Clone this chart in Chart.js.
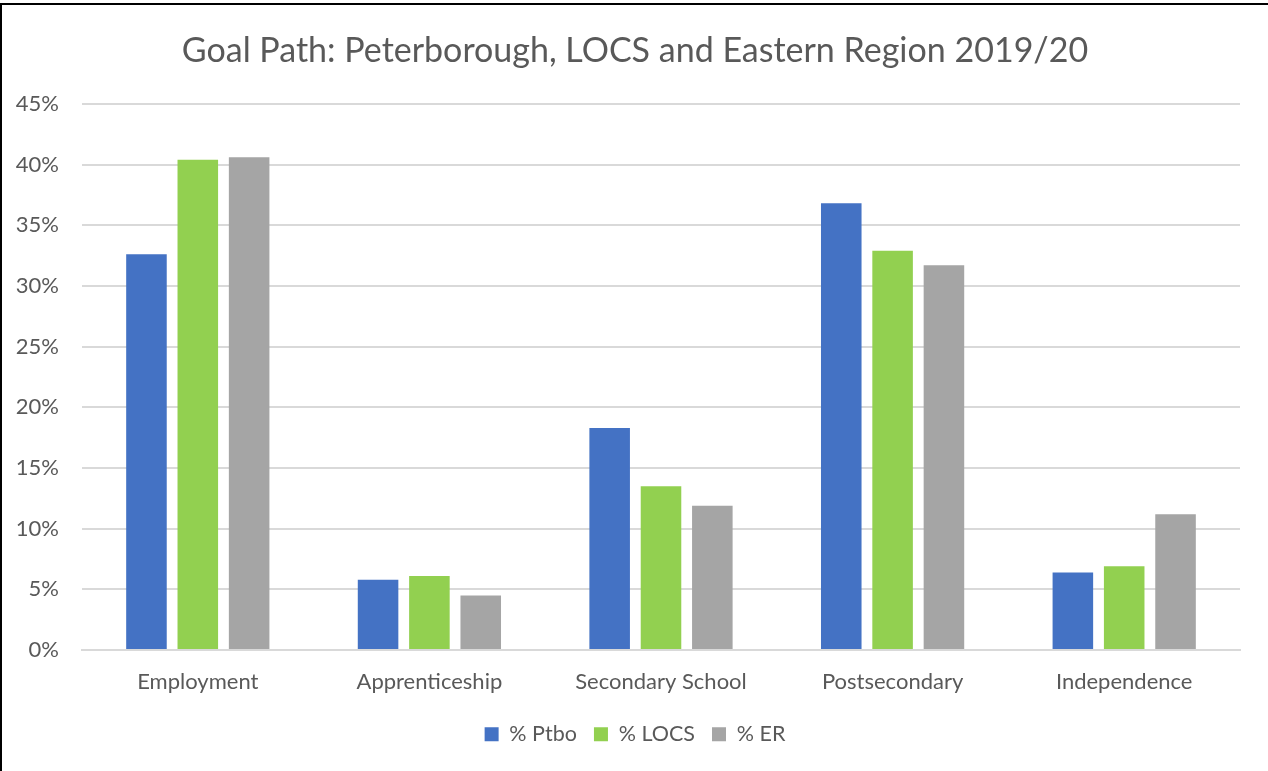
<!DOCTYPE html>
<html>
<head>
<meta charset="utf-8">
<script src="https://cdn.jsdelivr.net/npm/chart.js@4"></script>
<style>
  body { margin: 0; background: #fff; }
  #wrap {
    position: absolute; left: 0; top: 3px;
    width: 1268px; height: 768px;
    border-left: 2px solid #000; border-top: 2px solid #000;
    box-sizing: border-box;
  }
</style>
</head>
<body>
<div id="wrap"><canvas id="myChart" width="1266" height="766"></canvas></div>
<script>
const categories = ['Employment', 'Apprenticeship', 'Secondary School', 'Postsecondary', 'Independence'];
const ptbo = [32.6, 5.8, 18.3, 36.8, 6.4];
const locs = [40.4, 6.1, 13.5, 32.9, 6.9];
const er = [40.6, 4.5, 11.9, 31.7, 11.2];
const seriesNames = ['% Ptbo', '% LOCS', '% ER'];
const yTicks = [0, 5, 10, 15, 20, 25, 30, 35, 40, 45];

const textColor = '#595959';
const fontName = 'Lato, "Open Sans", sans-serif';

let ctx = document.getElementById('myChart').getContext('2d');
let chart = new Chart(ctx, {
  type: 'bar',
  data: {
    labels: categories,
    datasets: [
      { label: seriesNames[0], data: ptbo, backgroundColor: '#4472C4' },
      { label: seriesNames[1], data: locs, backgroundColor: '#92D050' },
      { label: seriesNames[2], data: er, backgroundColor: '#A5A5A5' }
    ]
  },
  options: {
    responsive: false,
    animation: false,
    categoryPercentage: 0.665,
    barPercentage: 0.79,
    layout: { padding: { left: 0, right: 0, top: 0, bottom: 16 } },
    plugins: {
      title: {
        display: true,
        text: 'Goal Path: Peterborough, LOCS and Eastern Region 2019/20',
        color: textColor,
        font: { family: fontName, size: 34, weight: 'normal' },
        padding: { top: 26, bottom: 32 }
      },
      legend: {
        position: 'bottom',
        labels: {
          color: textColor,
          font: { family: fontName, size: 21.5 },
          boxWidth: 14, boxHeight: 14,
          padding: 17
        }
      },
      tooltip: { enabled: false }
    },
    scales: {
      x: {
        grid: { display: false },
        border: { color: '#D9D9D9', width: 2 },
        ticks: { color: textColor, font: { family: fontName, size: 22 }, padding: 11 }
      },
      y: {
        min: 0, max: yTicks[yTicks.length - 1],
        afterBuildTicks: (axis) => { axis.ticks = yTicks.map(v => ({ value: v })); },
        afterFit: (axis) => { axis.width = 80; },
        grid: { color: '#D9D9D9', lineWidth: 2, drawTicks: false },
        border: { display: false },
        ticks: { color: textColor, font: { family: fontName, size: 22 }, padding: 23,
          callback: (v) => v + '%' }
      },
      // empty right margin so the title and legend stay centred on the canvas
      yRight: {
        position: 'right',
        min: 0, max: yTicks[yTicks.length - 1],
        afterFit: (axis) => { axis.width = 28; },
        grid: { display: false },
        border: { display: false },
        ticks: { display: false }
      }
    }
  }
});
</script>
</body>
</html>
